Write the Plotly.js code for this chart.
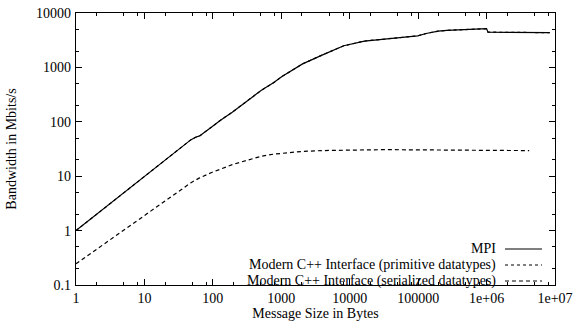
<!DOCTYPE html>
<html>
<head>
<meta charset="utf-8">
<script src="https://cdn.plot.ly/plotly-3.0.1.min.js"></script>
<style>html,body{margin:0;padding:0;background:#fff;}#chart{width:576px;height:322px;}</style>
</head>
<body>
<div id="chart"></div>
<script>
// Message sizes in bytes
const sizes = [1,2,4,8,16,32,48,56,64,96,128,192,256,384,512,768,1024,1536,2048,4096,8192,16384,32768,65536,98304,131072,196608,262144,524288,786432,1000000,1048576,2097152,4194304,8388608];
// MPI bandwidth (Mbits/s)
const mpi = [1,2,4,8,16,31.5,47,52,55,80,106,150,200,290,380,520,680,930,1160,1720,2500,3050,3350,3600,3800,4200,4650,4800,4950,5050,5150,4450,4420,4380,4350];
// Modern C++ Interface, primitive datatypes (overlaps MPI)
const primitive = [1,2,4,8,16,31.5,47,52,55,80,106,150,200,290,380,520,680,930,1160,1720,2500,3050,3350,3600,3800,4200,4650,4800,4950,5050,5150,4450,4420,4380,4350];
// Modern C++ Interface, serialized datatypes
const serSizes = [1,2,4,8,16,32,48,56,64,96,128,192,256,384,512,768,1024,1536,2048,4096,8192,16384,32768,65536,98304,131072,196608,262144,524288,786432,1000000,1048576,2097152,4194304];
const serialized = [0.245,0.455,0.85,1.57,2.9,5.5,7.6,8.5,9.3,11.7,13.6,16.3,18.2,21.3,23.3,25.4,26.5,27.8,28.6,29.6,30.3,30.7,30.8,30.6,30.4,30.3,30.2,30.1,30.0,29.9,29.9,29.8,29.7,29.6];

const xTickVals = [1,10,100,1000,10000,100000,1000000,10000000];
const xTickText = ["1","10","100","1000","10000","100000","1e+06","1e+07"];
const yTickVals = [0.1,1,10,100,1000,10000];
const yTickText = ["0.1","1","10","100","1000","10000"];
const seriesNames = ["MPI","Modern C++ Interface (primitive datatypes)","Modern C++ Interface (serialized datatypes)"];

const xMinor = [];
for (let d = 1; d < 1e7; d *= 10) { [2,5,8].forEach(m => xMinor.push(m*d)); }
const yMinor = [];
for (let d = 0.1; d < 1e4; d *= 10) { [2,5].forEach(m => yMinor.push(+(m*d).toPrecision(3))); }

const font = {family: "Liberation Serif, Times New Roman, serif", size: 14, color: "#000"};

const traces = [
  {x: sizes, y: primitive, name: seriesNames[1], mode: "lines", line: {color: "#000", width: 1.2, dash: "dot"}, showlegend: false},
  {x: serSizes, y: serialized, name: seriesNames[2], mode: "lines", line: {color: "#000", width: 1.2, dash: "4px,3px"}, showlegend: false},
  {x: sizes, y: mpi, name: seriesNames[0], mode: "lines", line: {color: "#000", width: 1.2}, showlegend: false}
];

// legend drawn as annotations + short sample lines (paper coords)
const legRowsY = [0.1324, 0.0735, 0.0147];
const legDash = ["solid", "dot", "4px,3px"];
const annotations = seriesNames.map((n, i) => ({
  xref: "paper", yref: "paper", x: 0.879, y: legRowsY[i], xanchor: "right", yanchor: "middle",
  text: n, showarrow: false, font: font, borderpad: 0
}));
const shapes = seriesNames.map((n, i) => ({
  type: "line", xref: "paper", yref: "paper", x0: 0.8956, x1: 0.9729, y0: legRowsY[i], y1: legRowsY[i],
  line: {color: "#000", width: 1.2, dash: legDash[i]}
}));

const axisCommon = {
  showline: true, linecolor: "#000", linewidth: 1.2, mirror: "allticks",
  ticks: "inside", ticklen: 6, tickwidth: 1, tickcolor: "#000",
  showgrid: false, zeroline: false, tickfont: font
};

const layout = {
  width: 576, height: 322,
  margin: {l: 76, r: 21, t: 13, b: 37},
  paper_bgcolor: "#fff", plot_bgcolor: "#fff",
  font: font,
  showlegend: false,
  xaxis: Object.assign({}, axisCommon, {
    type: "log", range: [0, 7],
    tickmode: "array", tickvals: xTickVals, ticktext: xTickText,
    minor: {tickmode: "array", tickvals: xMinor, ticks: "inside", ticklen: 3, tickcolor: "#000", showgrid: false},
    title: {text: "Message Size in Bytes", font: font, standoff: 2}
  }),
  yaxis: Object.assign({}, axisCommon, {
    type: "log", range: [-1, 4],
    tickmode: "array", tickvals: yTickVals, ticktext: yTickText,
    ticklabelstandoff: 1,
    minor: {tickmode: "array", tickvals: yMinor, ticks: "inside", ticklen: 3, tickcolor: "#000", showgrid: false},
    title: {text: "Bandwidth in Mbits/s", font: font, standoff: 16}
  }),
  annotations: annotations,
  shapes: shapes
};

Plotly.newPlot("chart", traces, layout, {displayModeBar: false, staticPlot: true});
</script>
</body>
</html>
